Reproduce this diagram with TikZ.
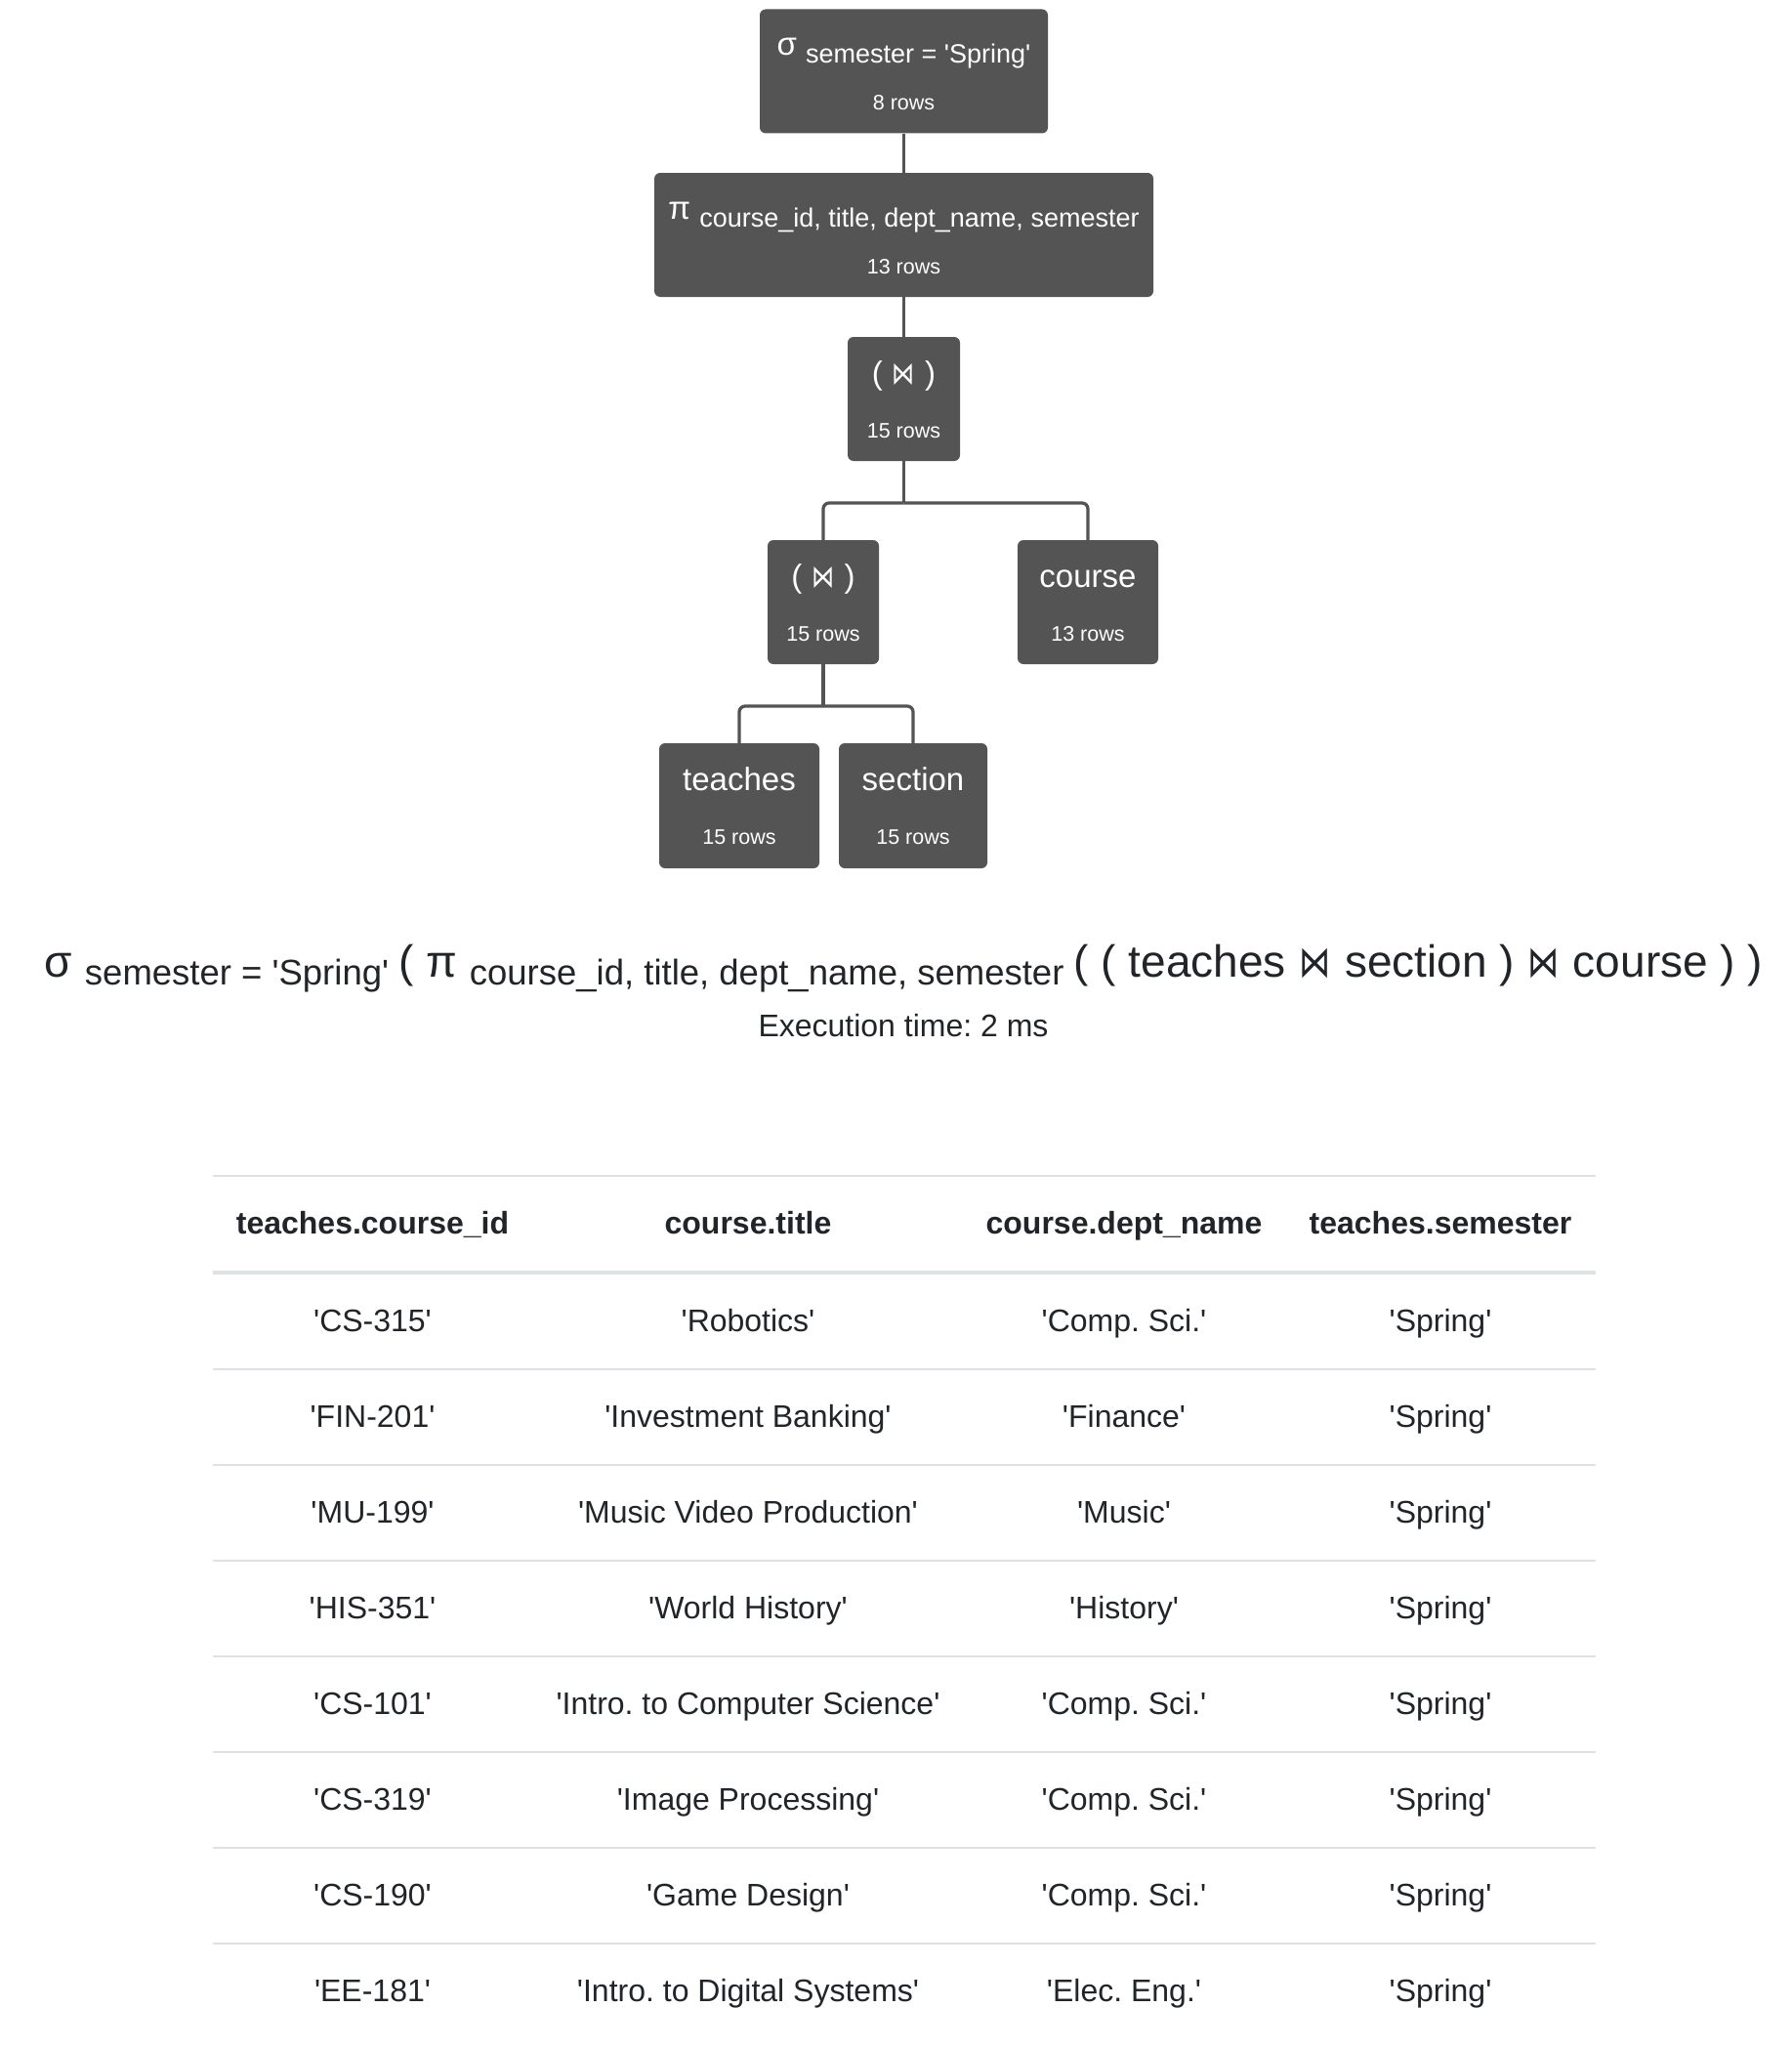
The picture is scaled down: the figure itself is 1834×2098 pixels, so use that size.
\documentclass[tikz,border=0pt]{standalone}
\usepackage{fontspec}
\setmainfont{Liberation Sans}[Ligatures=TeXOff]
\newfontfamily\djv{DejaVu Sans}
\definecolor{boxc}{HTML}{545454}
\definecolor{txt}{HTML}{212529}
\definecolor{rulec}{HTML}{DEE2E6}
\newcommand{\fsz}[1]{\fontsize{#1}{#1}\selectfont}
\newcommand{\bt}{\makebox[0.75em]{\scalebox{0.7}[0.97]{\djv ⋈}}}
\newcommand{\sbx}[1]{\raisebox{-8pt}{#1}}
\frenchspacing
\begin{document}
\begin{tikzpicture}[x=1pt,y=-1pt,
  opbox/.style={fill=boxc, rounded corners=6pt, inner sep=0pt, minimum height=127pt},
  optitle/.style={text=white, inner sep=0pt, anchor=base, font=\fsz{33}},
  oprows/.style={text=white, inner sep=0pt, anchor=base, font=\fsz{21.5}},
  conn/.style={draw=boxc, line width=3.3pt},
  bentconn/.style={conn, rounded corners=6pt},
  hdr/.style={text=txt, inner sep=0pt, anchor=base, font=\fsz{32}\bfseries},
  cell/.style={text=txt, inner sep=0pt, anchor=base, font=\fsz{32}},
  thinrule/.style={draw=rulec, line width=2pt},
  thickrule/.style={draw=rulec, line width=4pt}
]
\fill[white] (0,0) rectangle (1834,2098);
\useasboundingbox (0,0) rectangle (1834,2098);

% operator boxes
\node[opbox, minimum width=295pt] (sig) at (925.5,73) {};
\node[optitle] (sigt) at (925.5,57) {σ \fsz{27}\sbx{semester = 'Spring'}};
\node[oprows] (sigr) at (925.5,113) {8 rows};

\node[opbox, minimum width=511pt] (pi) at (925.5,240.5) {};
\node[optitle] (pit) at (925.5,224) {π \fsz{27}\sbx{course\_id, title, dept\_name, semester}};
\node[oprows] (pir) at (925.5,280) {13 rows};

\node[opbox, minimum width=115pt] (j1) at (925.5,408.5) {};
\node[optitle] (j1t) at (925.5,393) {( \bt{} )};
\node[oprows] (j1r) at (925.5,448) {15 rows};

\node[opbox, minimum width=114pt] (j2) at (843,616.5) {};
\node[optitle] (j2t) at (843,601) {( \bt{} )};
\node[oprows] (j2r) at (843,656) {15 rows};

\node[opbox, minimum width=144pt] (course) at (1114,616.5) {};
\node[optitle] (coursetxt) at (1114,601) {course};
\node[oprows] (courser) at (1114,656) {13 rows};

\node[opbox, minimum width=164pt, minimum height=128pt] (teaches) at (757,825) {};
\node[optitle] (teachest) at (757,809) {teaches};
\node[oprows] (teachesr) at (757,864) {15 rows};

\node[opbox, minimum width=152pt, minimum height=128pt] (section) at (935,825) {};
\node[optitle] (sectiont) at (935,809) {section};
\node[oprows] (sectionr) at (935,864) {15 rows};

% connectors
\draw[conn] (sig.south) -- (pi.north);
\draw[conn] (pi.south) -- (j1.north);
\coordinate (b1) at (925.5,515);
\draw[conn] (j1.south) -- (b1);
\draw[bentconn] (b1) -| (j2.north);
\draw[bentconn] (b1) -| (course.north);
\coordinate (b2) at (843,723);
\draw[conn] (j2.south) -- (b2);
\draw[bentconn] (b2) -| (teaches.north);
\draw[bentconn] (b2) -| (section.north);

% expression
\node[text=txt, inner sep=0pt, anchor=base] (expr) at (925.5,1000)
  {\fsz{46}σ \fsz{36.5}\sbx{semester = 'Spring'} \fsz{46}( π \fsz{36.5}\sbx{course\_id, title, dept\_name, semester} \fsz{46}( ( teaches \bt{} section ) \bt{} course ) )};
\node[text=txt, inner sep=0pt, anchor=base, font=\fsz{32}] (exec) at (925,1061) {Execution time: 2 ms};

% table rules
\draw[thinrule] (218,1204) -- (1634,1204);
\draw[thickrule] (218,1303) -- (1634,1303);
\foreach \k in {0,...,6} {
  \draw[thinrule] (218,1402+98*\k) -- (1634,1402+98*\k);
}

% header
\node[hdr] (h1) at (381.5,1263) {teaches.course\_id};
\node[hdr] (h2) at (766,1263) {course.title};
\node[hdr] (h3) at (1151,1263) {course.dept\_name};
\node[hdr] (h4) at (1475,1263) {teaches.semester};

% rows
\foreach \a/\b/\c [count=\i from 0] in {
  {'CS-315'}/{'Robotics'}/{'Comp. Sci.'},
  {'FIN-201'}/{'Investment Banking'}/{'Finance'},
  {'MU-199'}/{'Music Video Production'}/{'Music'},
  {'HIS-351'}/{'World History'}/{'History'},
  {'CS-101'}/{'Intro. to Computer Science'}/{'Comp. Sci.'},
  {'CS-319'}/{'Image Processing'}/{'Comp. Sci.'},
  {'CS-190'}/{'Game Design'}/{'Comp. Sci.'},
  {'EE-181'}/{'Intro. to Digital Systems'}/{'Elec. Eng.'}} {
  \node[cell] (r\i c1) at (381.5,1363+98*\i) {\a};
  \node[cell] (r\i c2) at (766,1363+98*\i) {\b};
  \node[cell] (r\i c3) at (1151,1363+98*\i) {\c};
  \node[cell] (r\i c4) at (1475,1363+98*\i) {'Spring'};
}
\end{tikzpicture}
\end{document}
